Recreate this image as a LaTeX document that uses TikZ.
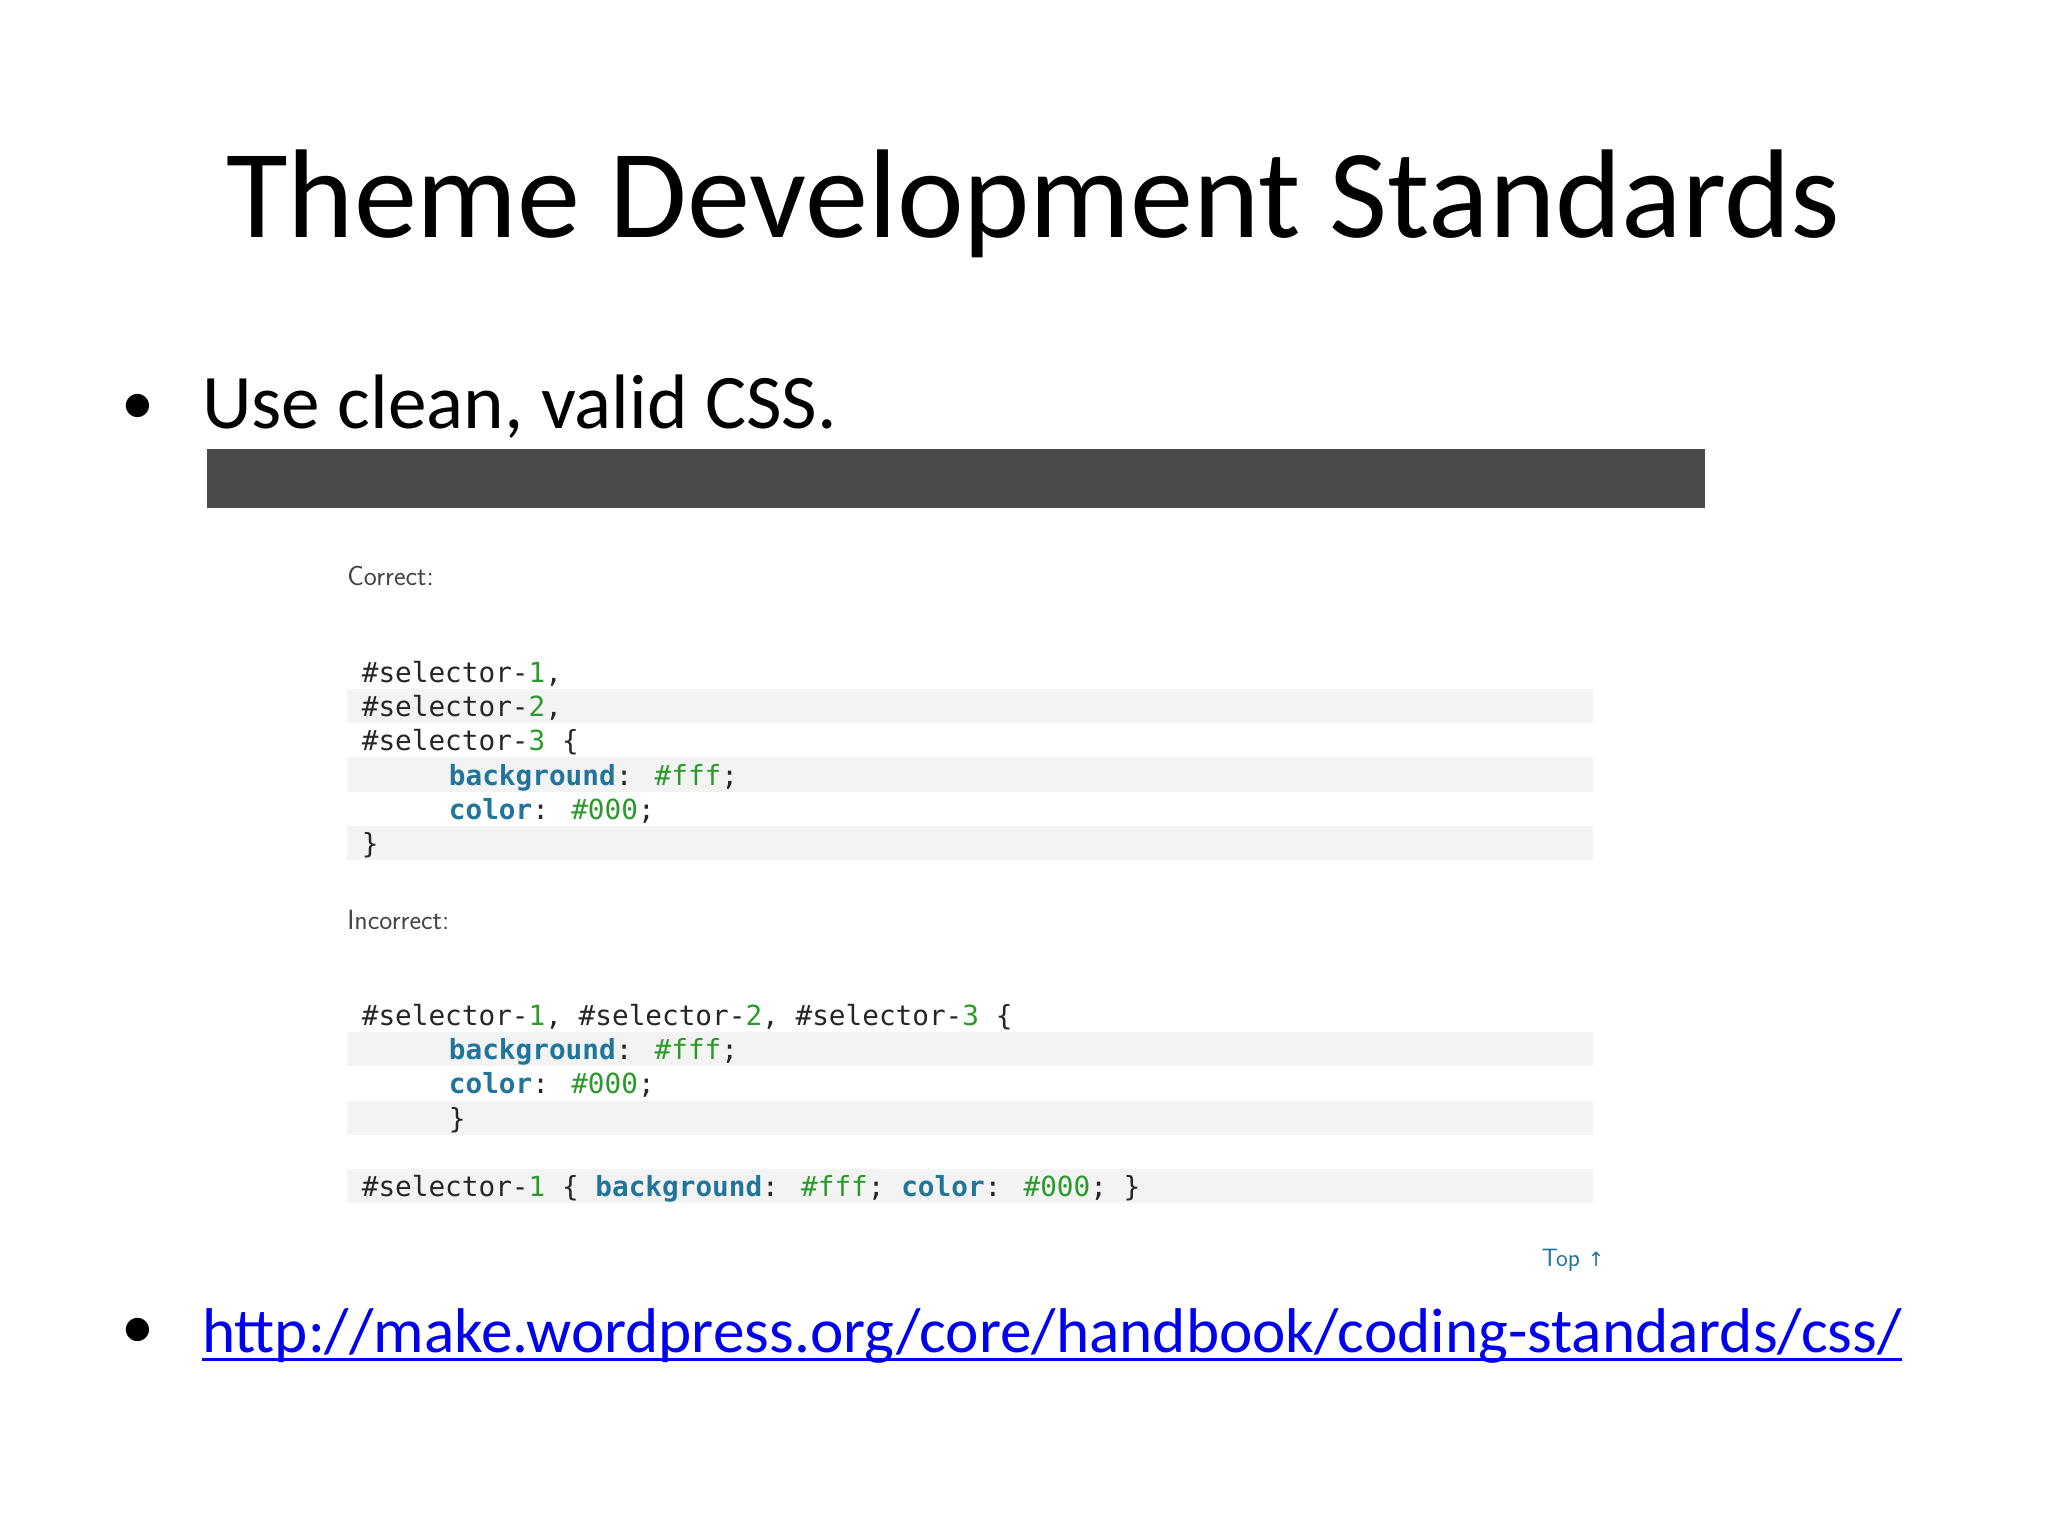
\documentclass[tikz,border=0pt]{standalone}
\usepackage{fontspec}
\usepackage{graphicx}
\setmainfont{Carlito}
\newfontfamily\codefont{DejaVu Sans Mono}
\newfontfamily\dejavu{DejaVu Sans}
\definecolor{prop}{HTML}{21759B}
\definecolor{val}{HTML}{2A9A2A}
\definecolor{bar}{HTML}{4A4A4A}
\definecolor{band}{HTML}{F3F3F3}
\definecolor{lbl}{HTML}{444444}
\definecolor{link}{HTML}{0000EE}
\begin{document}
\begin{tikzpicture}[x=1pt,y=-1pt,
  code/.style={anchor=base west,inner sep=0pt,font=\codefont\fontsize{21}{21}\selectfont,text=black!85},
  lab/.style={anchor=base west,inner sep=0pt,font=\sffamily\fontsize{21}{21}\selectfont,text=lbl},
  bandbox/.style={fill=band,draw=none}]
\useasboundingbox (0,0) rectangle (1552,1164);
\fill[white] (0,0) rectangle (1552,1164);
\node[anchor=base,inner sep=0pt] (title) at (783,180) {\resizebox{1223pt}{!}{\fontsize{100}{100}\selectfont Theme Development Standards}};
\node[anchor=base west,inner sep=0pt,font=\fontsize{50}{50}\selectfont] (b1) at (92,322) {•};
\node[anchor=base west,inner sep=0pt] (t1) at (153,325) {\resizebox{481pt}{!}{\fontsize{58}{58}\selectfont Use clean, valid CSS.}};
\fill[bar] (157,340) rectangle (1292,385);
\foreach \y in {522,574,626,782,834,886} \fill[band] (263,\y) rectangle (1207,\y+26);
\newcommand\pr[1]{\textcolor{prop}{\bfseries #1}}
\newcommand\vl[1]{\textcolor{val}{#1}}
\node[lab] (correct) at (263,444) {Correct:};
\node[code] (c1) at (274,517) {\#selector-\vl{1},};
\node[code] (c2) at (274,543) {\#selector-\vl{2},};
\node[code] (c3) at (274,569) {\#selector-\vl{3} \{};
\node[code] (c4) at (340,595) {\pr{background}: \vl{\#fff};};
\node[code] (c5) at (340,621) {\pr{color}: \vl{\#000};};
\node[code] (c6) at (274,647) {\}};
\node[lab] (incorrect) at (263,704) {Incorrect:};
\node[code] (i1) at (274,777) {\#selector-\vl{1}, \#selector-\vl{2}, \#selector-\vl{3} \{};
\node[code] (i2) at (340,803) {\pr{background}: \vl{\#fff};};
\node[code] (i3) at (340,829) {\pr{color}: \vl{\#000};};
\node[code] (i4) at (340,855) {\}};
\node[code] (i5) at (274,907) {\#selector-\vl{1} \{ \pr{background}: \vl{\#fff}; \pr{color}: \vl{\#000}; \}};
\node[anchor=base east,inner sep=0pt,font=\sffamily\fontsize{19}{19}\selectfont,text=prop] (top) at (1216,960) {Top {\dejavu\fontsize{15}{15}\selectfont ↑}};
\node[anchor=base west,inner sep=0pt,font=\fontsize{50}{50}\selectfont] (b2) at (92,1022) {•};
\node[anchor=base west,inner sep=0pt,text=link] (url) at (153,1025) {\resizebox{1288pt}{!}{\fontsize{56}{56}\selectfont http://make.wordpress.org/core/handbook/coding-standards/css/}};
\draw[link,line width=2.5pt] ([yshift=-5pt]url.base west) -- ([yshift=-5pt]url.base east);
\end{tikzpicture}
\end{document}
